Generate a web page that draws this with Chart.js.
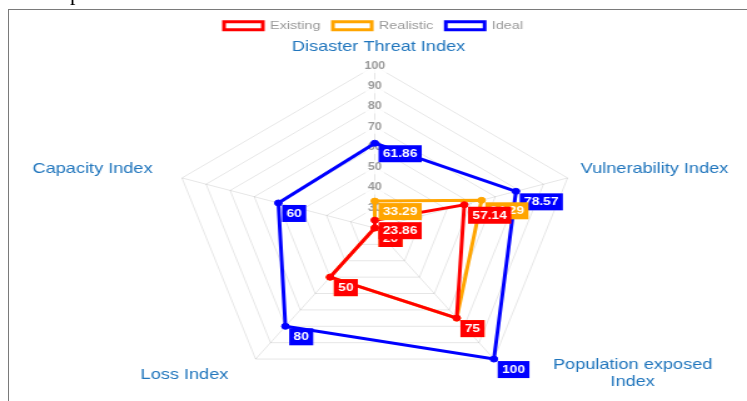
<!DOCTYPE html>
<html>
<head>
<meta charset="utf-8">
<script src="https://cdn.jsdelivr.net/npm/chart.js@4.4.0/dist/chart.umd.min.js"></script>
<style>
  html, body { margin: 0; padding: 0; background: #fff; }
  body { width: 747px; height: 401px; position: relative; overflow: hidden; }
  #frame { position: absolute; left: 8px; top: 9px; width: 739px; height: 392px;
           border-top: 1px solid #7a7a7a; border-left: 1px solid #7a7a7a; z-index: 2; }
  #cut { position: absolute; left: 70px; top: -18px; font: 22px "Liberation Serif", serif;
         line-height: 22px; color: #000; z-index: 3; }
  #wrap { position: absolute; left: 0; top: 0; width: 597px; height: 401px;
          transform: scaleX(1.2513); transform-origin: 0 0; }
</style>
</head>
<body>
<div id="cut">p</div>
<div id="frame"></div>
<div id="wrap"><canvas id="radar"></canvas></div>
<script>
const indexLabels = ['Disaster Threat Index', 'Vulnerability Index', ['Population exposed', 'Index'], 'Loss Index', 'Capacity Index'];
const existing = [23.86, 57.14, 75, 50, 20];
const realistic = [33.29, 64.29, 75, 50, 20];
const ideal = [61.86, 78.57, 100, 80, 60];
const scaleMin = 20;
const scaleMax = 100;
const scaleStep = 10;

// nudges for the axis titles, they sit a bit off the usual chart.js spot in the picture
const titleNudge = [[3, -9], [60, -6], [105, 6], [-51, 8], [-62, -6]];

Chart.defaults.font.family = 'Arial, "Liberation Sans", sans-serif';

const axisTitles = {
  id: 'axisTitles',
  afterDraw(chart) {
    const scale = chart.scales.r;
    const ctx = chart.ctx;
    const lh = 17;
    ctx.save();
    ctx.font = '14.5px Arial, "Liberation Sans", sans-serif';
    ctx.fillStyle = '#2176bd';
    ctx.textAlign = 'center';
    ctx.textBaseline = 'middle';
    indexLabels.forEach((lbl, i) => {
      const p = scale.getPointPosition(i, scale.drawingArea + 10);
      const lines = [].concat(lbl);
      const x = p.x + titleNudge[i][0];
      let y = p.y + titleNudge[i][1] - (lines.length - 1) * lh / 2;
      lines.forEach((line) => {
        ctx.fillText(line, x, y);
        y += lh;
      });
    });
    ctx.restore();
  }
};

// value boxes next to each point, first dataset / first point ends up on top
const valueBoxes = {
  id: 'valueBoxes',
  afterDatasetsDraw(chart) {
    const ctx = chart.ctx;
    ctx.save();
    ctx.font = 'bold 11px Arial, "Liberation Sans", sans-serif';
    ctx.textBaseline = 'middle';
    ctx.textAlign = 'left';
    for (let d = chart.data.datasets.length - 1; d >= 0; d--) {
      const ds = chart.data.datasets[d];
      const meta = chart.getDatasetMeta(d);
      for (let i = meta.data.length - 1; i >= 0; i--) {
        const pt = meta.data[i];
        const text = String(ds.data[i]);
        const w = ctx.measureText(text).width + 7;
        const h = 17;
        const x = pt.x + 3;
        const y = pt.y + 2;
        ctx.fillStyle = ds.borderColor;
        ctx.fillRect(x, y, w, h);
        ctx.fillStyle = '#fff';
        ctx.fillText(text, x + 3.5, y + h / 2 + 0.5);
      }
    }
    ctx.restore();
  }
};

function makeSet(label, values, color) {
  return {
    label: label,
    data: values,
    borderColor: color,
    backgroundColor: 'rgba(0,0,0,0)',
    borderWidth: 3,
    pointRadius: 3,
    pointBackgroundColor: color,
    pointBorderColor: color,
    pointBorderWidth: 1,
    fill: false,
    tension: 0,
    clip: false
  };
}

new Chart(document.getElementById('radar'), {
  type: 'radar',
  data: {
    labels: indexLabels,
    datasets: [
      makeSet('Existing', existing, '#ff0000'),
      makeSet('Realistic', realistic, '#ffa500'),
      makeSet('Ideal', ideal, '#0000ff')
    ]
  },
  options: {
    responsive: true,
    maintainAspectRatio: false,
    devicePixelRatio: 1,
    animation: false,
    layout: { padding: { top: 10 } },
    plugins: {
      legend: {
        position: 'top',
        labels: {
          boxWidth: 31,
          boxHeight: 8,
          color: '#999',
          font: { size: 11.5 }
        }
      },
      tooltip: { enabled: false }
    },
    scales: {
      r: {
        min: scaleMin,
        max: scaleMax,
        ticks: {
          stepSize: scaleStep,
          color: '#999',
          font: { size: 10, weight: 'bold' }
        },
        pointLabels: { display: false },
        grid: { color: 'rgba(0,0,0,0.1)' },
        angleLines: { color: 'rgba(0,0,0,0.1)' },
        afterFit(scale) {
          scale.xCenter = 299.5;
          scale.yCenter = 228;
          scale.drawingArea = 162;
        }
      }
    }
  },
  plugins: [axisTitles, valueBoxes]
});
</script>
</body>
</html>
